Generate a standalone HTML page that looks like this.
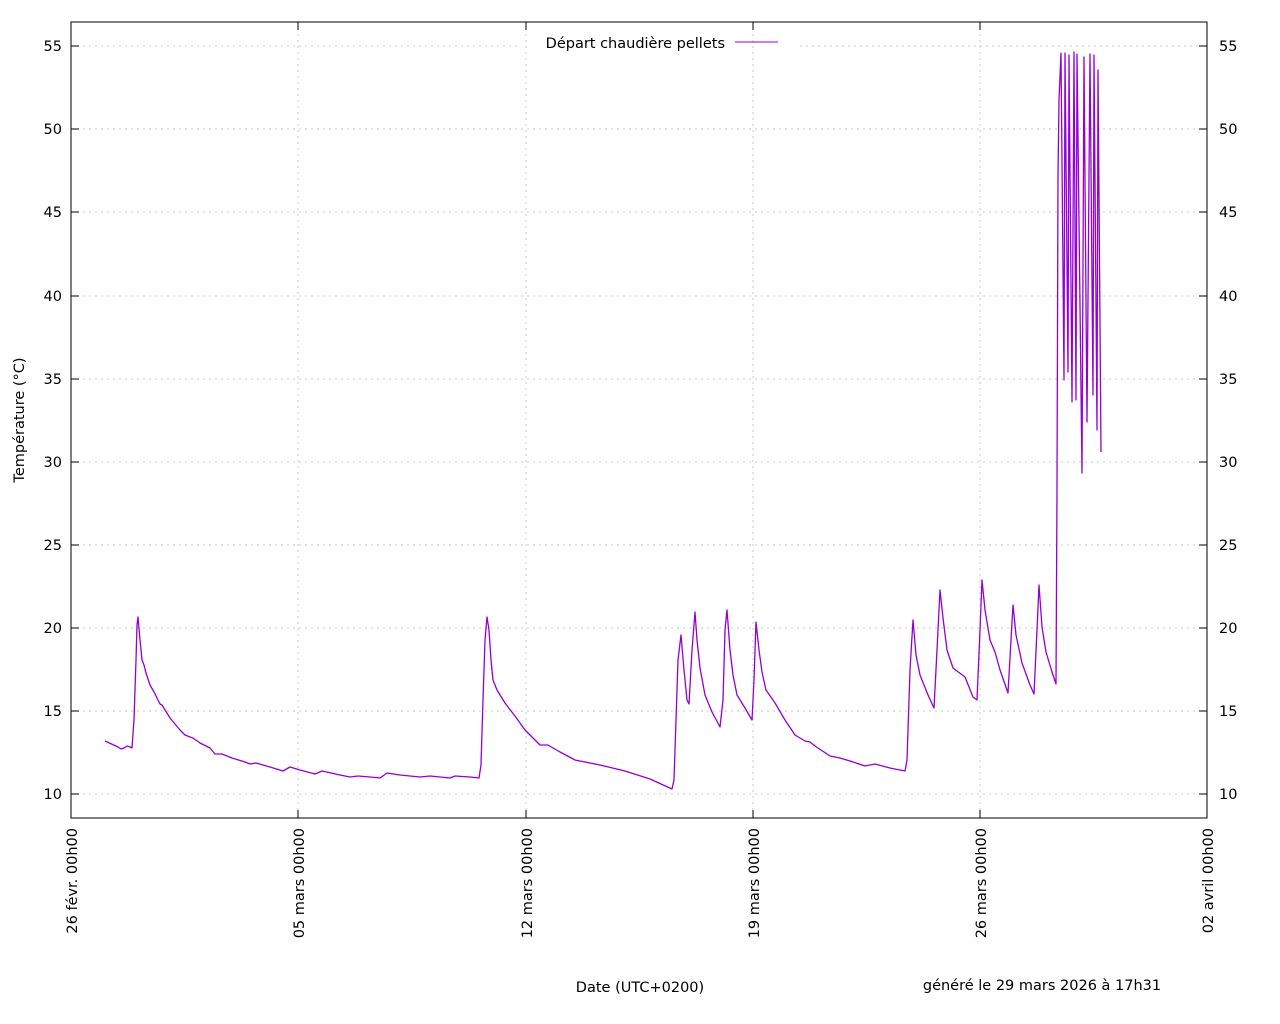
<!DOCTYPE html>
<html><head><meta charset="utf-8"><style>body{margin:0;background:#fff}svg{display:block}text{font-family:"DejaVu Sans","Liberation Sans",sans-serif;font-size:14.5px;fill:#000}</style></head><body>
<svg width="1280" height="1024" viewBox="0 0 1280 1024" xmlns="http://www.w3.org/2000/svg">
<g stroke="#c8c8c8" stroke-dasharray="2,4" stroke-width="1">
<line x1="71" y1="794" x2="1207" y2="794"/><line x1="71" y1="711" x2="1207" y2="711"/><line x1="71" y1="628" x2="1207" y2="628"/><line x1="71" y1="545" x2="1207" y2="545"/><line x1="71" y1="462" x2="1207" y2="462"/><line x1="71" y1="379" x2="1207" y2="379"/><line x1="71" y1="296" x2="1207" y2="296"/><line x1="71" y1="212" x2="1207" y2="212"/><line x1="71" y1="129" x2="1207" y2="129"/><line x1="71" y1="46" x2="520" y2="46"/><line x1="800" y1="46" x2="1207" y2="46"/>
<line x1="298" y1="22" x2="298" y2="818"/><line x1="526" y1="22" x2="526" y2="818"/><line x1="753" y1="22" x2="753" y2="818"/><line x1="980" y1="22" x2="980" y2="818"/>
</g>
<rect x="71" y="22" width="1136" height="796" fill="none" stroke="#000" stroke-width="1"/>
<g stroke="#000">
<path d="M71 794h8M71 711h8M71 628h8M71 545h8M71 462h8M71 379h8M71 296h8M71 212h8M71 129h8M71 46h8"/>
<path d="M1207 794h-8M1207 711h-8M1207 628h-8M1207 545h-8M1207 462h-8M1207 379h-8M1207 296h-8M1207 212h-8M1207 129h-8M1207 46h-8"/>
<path d="M298 818v-8M526 818v-8M753 818v-8M980 818v-8M298 22v8M526 22v8M753 22v8M980 22v8"/>
</g>
<g text-anchor="end">
<text x="62" y="799">10</text><text x="62" y="716">15</text><text x="62" y="633">20</text><text x="62" y="550">25</text><text x="62" y="467">30</text><text x="62" y="384">35</text><text x="62" y="301">40</text><text x="62" y="217">45</text><text x="62" y="134">50</text><text x="62" y="51">55</text>
</g>
<g>
<text x="1219" y="799">10</text><text x="1219" y="716">15</text><text x="1219" y="633">20</text><text x="1219" y="550">25</text><text x="1219" y="467">30</text><text x="1219" y="384">35</text><text x="1219" y="301">40</text><text x="1219" y="217">45</text><text x="1219" y="134">50</text><text x="1219" y="51">55</text>
</g>
<g text-anchor="end">
<text transform="translate(77,828) rotate(-90)">26 févr. 00h00</text>
<text transform="translate(304,828) rotate(-90)">05 mars 00h00</text>
<text transform="translate(532,828) rotate(-90)">12 mars 00h00</text>
<text transform="translate(759,828) rotate(-90)">19 mars 00h00</text>
<text transform="translate(986,828) rotate(-90)">26 mars 00h00</text>
<text transform="translate(1213,828) rotate(-90)">02 avril 00h00</text>
</g>
<text transform="translate(24,420) rotate(-90)" text-anchor="middle">Température (°C)</text>
<text x="640" y="992" text-anchor="middle">Date (UTC+0200)</text>
<text x="1042" y="990" text-anchor="middle">généré le 29 mars 2026 à 17h31</text>
<text x="725" y="48" text-anchor="end">Départ chaudière pellets</text>
<line x1="735" y1="42" x2="778" y2="42" stroke="#9400d3" stroke-width="1"/>
<polyline fill="none" stroke="#9400d3" stroke-width="1.3" stroke-linejoin="round" points="105,741 118,747 121,749 124,748 127,746 130,747 132,748 134,720 136,660 137,625 138,617 140,640 142,660 144,665 146,673 150,685 154,692 160,704 162,705 170,718 180,730 185,735 190,737 193,738 200,743 210,748 215,754 222,754 232,758 245,762 250,764 256,763 270,767 283,771 290,767 300,770 315,774 322,771 340,775 350,777 358,776 370,777 380,778 387,773 400,775 420,777 430,776 440,777 450,778 455,776 470,777 479,778 481,765 483,700 485,640 487,617 489,630 491,660 493,680 497,690 505,703 515,716 525,730 535,740 540,745 548,745 560,752 575,760 600,765 625,771 650,779 672,789 674,780 676,720 678,660 681,635 684,670 687,700 689,704 692,650 695,612 697,640 700,668 705,695 712,712 720,727 723,700 725,630 727,610 730,650 733,675 737,695 745,708 752,720 754,680 756,622 759,650 762,672 766,690 775,703 785,720 795,735 805,741 810,742 815,746 830,756 840,758 850,761 865,766 875,764 890,768 905,771 907,760 910,670 913,620 916,655 920,675 928,695 934,708 937,650 940,590 943,618 947,650 953,668 965,677 973,697 977,700 980,630 982,580 985,610 990,640 995,652 1000,670 1008,693 1011,640 1013,605 1016,635 1022,663 1030,685 1034,694 1037,630 1039,585 1042,627 1046,652 1052,672 1056,684 1057,490 1058,175 1059,100 1061,53 1064,380 1065,53 1068,372 1069,55 1072,402 1074,52 1076,400 1077,54 1082,473 1084,57 1087,422 1090,54 1093,395 1094,55 1097,430 1098,70 1101,452"/>
</svg>
</body></html>
